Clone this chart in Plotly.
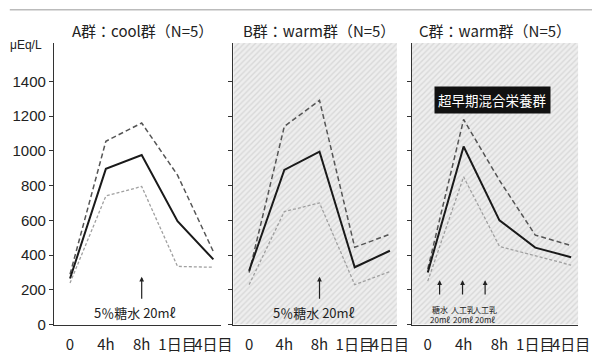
import plotly.graph_objects as go

# ---- data ----
categories = ["0", "4h", "8h", "1日目", "4日目"]
yticks = [0, 200, 400, 600, 800, 1000, 1200, 1400]

a_mean = [265, 896, 976, 595, 375]
a_upper = [290, 1055, 1160, 860, 420]
a_lower = [240, 740, 795, 335, 330]

b_mean = [310, 890, 995, 330, 425]
b_upper = [300, 1140, 1290, 445, 520]
b_lower = [230, 650, 700, 230, 305]

c_mean = [300, 1025, 600, 443, 388]
c_upper = [320, 1180, 830, 515, 455]
c_lower = [250, 850, 450, 395, 342]

titles = ["A群：cool群（N=5）", "B群：warm群（N=5）", "C群：warm群（N=5）"]

X_RANGE = [-0.45, 4.2]
Y_RANGE = [0, 1620]

FONT = "Liberation Sans, Noto Sans CJK JP, sans-serif"
JFONT = "Noto Sans CJK JP, Liberation Sans, sans-serif"

fig = go.Figure()

xs = list(range(len(categories)))
panels = [(a_mean, a_upper, a_lower), (b_mean, b_upper, b_lower), (c_mean, c_upper, c_lower)]
axnames = ["", "2", "3"]

for i, (m, u, l) in enumerate(panels):
    xa = "x" + axnames[i]
    ya = "y" + axnames[i]
    if i > 0:
        fig.add_trace(go.Scatter(
            x=[X_RANGE[0], X_RANGE[1], X_RANGE[1], X_RANGE[0], X_RANGE[0]],
            y=[Y_RANGE[0], Y_RANGE[0], Y_RANGE[1], Y_RANGE[1], Y_RANGE[0]],
            fill="toself", mode="none", fillcolor="#ececec",
            fillpattern=dict(shape="/", bgcolor="#eeeeee", fgcolor="#c2c2c2",
                             size=4, solidity=0.35),
            hoverinfo="skip", showlegend=False, xaxis=xa, yaxis=ya))
    fig.add_trace(go.Scatter(x=xs, y=l, mode="lines",
                             line=dict(color="#a0a0a0", width=1.3, dash="3px,2px"),
                             showlegend=False, xaxis=xa, yaxis=ya))
    fig.add_trace(go.Scatter(x=xs, y=u, mode="lines",
                             line=dict(color="#555555", width=1.5, dash="5px,3px"),
                             showlegend=False, xaxis=xa, yaxis=ya))
    fig.add_trace(go.Scatter(x=xs, y=m, mode="lines",
                             line=dict(color="#1a1a1a", width=2),
                             showlegend=False, xaxis=xa, yaxis=ya))

W, H = 604, 360
xdoms = [[55 / W, 225 / W], [238 / W, 405 / W], [420 / W, 590 / W]]
ydom = [1 - 332 / H, 1 - 44 / H]

layout = dict(
    width=W, height=H,
    margin=dict(l=0, r=0, t=0, b=0),
    paper_bgcolor="white", plot_bgcolor="rgba(0,0,0,0)",
    font=dict(family=FONT, color="#222222"),
    showlegend=False,
)
for i in range(3):
    k = "" if i == 0 else str(i + 1)
    layout["xaxis" + k] = dict(
        domain=xdoms[i], range=X_RANGE, tickmode="array", tickvals=xs,
        ticktext=categories, showgrid=False, zeroline=False, showline=True,
        linecolor="#333333", linewidth=1, ticks="", tickangle=0,
        ticklabelstandoff=6,
        tickfont=dict(size=15, family=JFONT),
        fixedrange=True, anchor="y" + k)
    layout["yaxis" + k] = dict(
        domain=ydom, range=Y_RANGE, tickmode="array", tickvals=yticks,
        showticklabels=(i == 0), showgrid=False, zeroline=False, showline=True,
        linecolor="#333333", linewidth=1, ticks="outside", ticklen=4,
        tickcolor="#333333", tickfont=dict(size=15), anchor="x" + k)
fig.update_layout(**layout)

ann = []
centers = [145, 325, 505]
for t, cx in zip(titles, centers):
    ann.append(dict(text=t, x=cx / W, y=1 - 31 / H, xref="paper", yref="paper",
                    xanchor="center", yanchor="middle", showarrow=False,
                    font=dict(size=15, family=JFONT, color="#222")))
ann.append(dict(text="μEq/L", x=27 / W, y=1 - 46 / H, xref="paper", yref="paper",
                xanchor="center", yanchor="middle",
                showarrow=False, font=dict(size=12, color="#222")))

# 5% sugar water arrows (A, B)
for xa, ya, tx in [("x", "y", 1.8), ("x2", "y2", 1.85)]:
    ann.append(dict(x=2, y=275, xref=xa, yref=ya, ax=2, ay=140, axref=xa, ayref=ya,
                    text="", showarrow=True, arrowhead=2, arrowsize=0.8,
                    arrowwidth=1.2, arrowcolor="#222"))
    ann.append(dict(x=tx, y=70, xref=xa, yref=ya, text="5％糖水 20mℓ",
                    xanchor="center", yanchor="middle",
                    showarrow=False, font=dict(size=13, family=JFONT, color="#222")))

# C arrows
c_arrow_x = [0.33, 0.97, 1.6]
c_labels = ["糖水<br>20mℓ", "人工乳<br>20mℓ", "人工乳<br>20mℓ"]
for cxv, lab in zip(c_arrow_x, c_labels):
    ann.append(dict(x=cxv, y=255, xref="x3", yref="y3", ax=cxv, ay=165,
                    axref="x3", ayref="y3", text="", showarrow=True, arrowhead=2,
                    arrowsize=0.8, arrowwidth=1.2, arrowcolor="#222"))
    ann.append(dict(x=cxv, y=60, xref="x3", yref="y3", text=lab, showarrow=False,
                    xanchor="center", yanchor="middle",
                    font=dict(size=8, family=JFONT, color="#222")))

ann.append(dict(text="超早期混合栄養群", x=502 / W, y=1 - 102 / H, xref="paper",
                yref="paper", xanchor="center", yanchor="middle",
                showarrow=False, bgcolor="#111111",
                font=dict(size=13.5, family=JFONT, color="white"), borderpad=3))
fig.update_layout(annotations=ann)

# faint scan line at top
fig.add_shape(type="line", x0=10 / W, x1=1, y0=1 - 10 / H, y1=1 - 10 / H,
              xref="paper", yref="paper", line=dict(color="#bbbbbb", width=1.5))

fig.write_html("out.html")
